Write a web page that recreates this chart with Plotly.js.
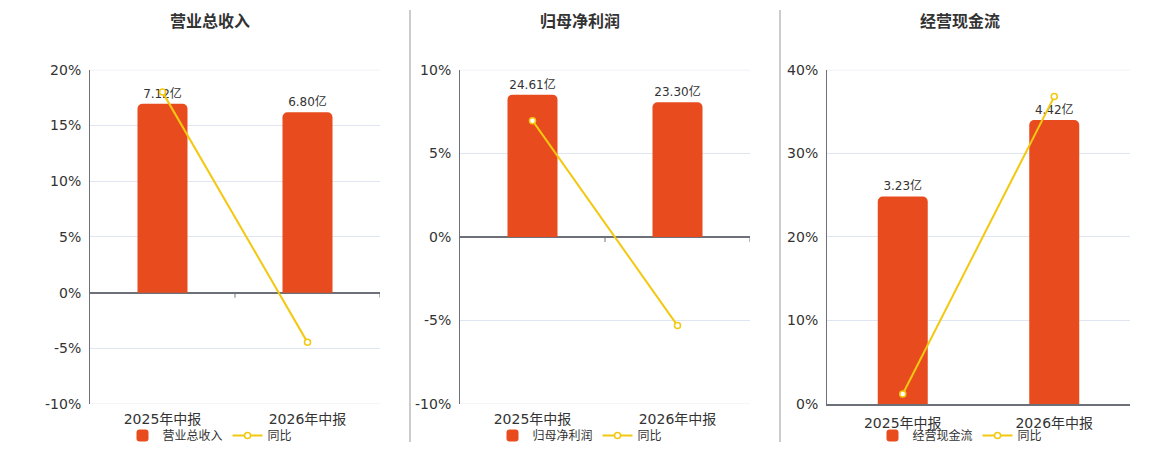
<!DOCTYPE html>
<html>
<head>
<meta charset="utf-8">
<script src="https://cdn.plot.ly/plotly-3.0.1.min.js"></script>
<style>
html,body{margin:0;padding:0;background:#fff;}
#chart{width:1160px;height:450px;}
</style>
</head>
<body>
<div id="chart"></div>
<script>
// ---- data ----
const categories = ['2025年中报', '2026年中报'];

const panelTitles = ['营业总收入', '归母净利润', '经营现金流'];

const revenueValues = [7.12, 6.80];     // 亿
const revenueYoY = [18.0, -4.46];       // %

const profitValues = [24.61, 23.30];    // 亿
const profitYoY = [6.96, -5.3];         // %

const cashValues = [3.23, 4.42];        // 亿
const cashYoY = [1.2, 36.8];            // %

const tickVals1 = [-10, -5, 0, 5, 10, 15, 20];
const tickText1 = ['-10%', '-5%', '0%', '5%', '10%', '15%', '20%'];
const tickVals2 = [-10, -5, 0, 5, 10];
const tickText2 = ['-10%', '-5%', '0%', '5%', '10%'];
const tickVals3 = [0, 10, 20, 30, 40];
const tickText3 = ['0%', '10%', '20%', '30%', '40%'];

const yoyName = '同比';

// ---- style ----
const BAR = '#E84C1E';
const LINE = '#F2C811';
const AXIS = '#6E7079';
const GRID = '#E0E6F1';
const TXT = '#333333';
const FONT = 'DejaVu Sans, Noto Sans CJK SC, sans-serif';

const panels = [
  {vals: revenueValues, yoy: revenueYoY, name: panelTitles[0], tv: tickVals1, tt: tickText1,
   pct: [-10, 20], bar: [-4.2, 8.4], dom: [90/1160, 380/1160], w: 0.345, cx: 210},
  {vals: profitValues, yoy: profitYoY, name: panelTitles[1], tv: tickVals2, tt: tickText2,
   pct: [-10, 10], bar: [-28.9, 28.9], dom: [460/1160, 750/1160], w: 0.345, cx: 580},
  {vals: cashValues, yoy: cashYoY, name: panelTitles[2], tv: tickVals3, tt: tickText3,
   pct: [0, 40], bar: [0, 5.2], dom: [827/1160, 1130/1160], w: 0.33, cx: 960}
];

const traces = [];
const layout = {
  width: 1160, height: 450,
  margin: {l: 0, r: 0, t: 0, b: 0},
  paper_bgcolor: '#fff', plot_bgcolor: 'rgba(0,0,0,0)',
  font: {family: FONT, color: TXT, size: 12},
  showlegend: true,
  annotations: [], shapes: []
};

const ydom = [1 - 405/450, 1 - 70/450];

panels.forEach((p, i) => {
  const n = i + 1;
  const xk = n === 1 ? 'x' : 'x' + n;
  const ybar = 'y' + (2*i + 1 === 1 ? '' : (2*i + 1));
  const ypct = 'y' + (2*i + 2);
  const legendId = n === 1 ? 'legend' : 'legend' + n;

  traces.push({
    type: 'bar', x: categories, y: p.vals, name: p.name,
    xaxis: xk, yaxis: ybar, legend: legendId,
    width: p.w,
    marker: {color: BAR, cornerradius: 5},
    text: p.vals.map(v => v.toFixed(2) + '亿'),
    textposition: 'outside', cliponaxis: false,
    textfont: {size: 12, color: TXT, family: FONT},
    hoverinfo: 'skip'
  });
  traces.push({
    type: 'scatter', mode: 'lines+markers', x: categories, y: p.yoy, name: yoyName,
    xaxis: xk, yaxis: ypct, legend: legendId, cliponaxis: false,
    line: {color: LINE, width: 2},
    marker: {symbol: 'circle', size: 6, color: '#fff', line: {color: LINE, width: 1.5}},
    hoverinfo: 'skip'
  });

  const xName = n === 1 ? 'xaxis' : 'xaxis' + n;
  const ybName = 'yaxis' + (2*i + 1 === 1 ? '' : (2*i + 1));
  const ypName = 'yaxis' + (2*i + 2);

  layout[xName] = {
    domain: p.dom, anchor: ybar, type: 'category',
    range: [-0.5, 1.5], fixedrange: true,
    showgrid: false, zeroline: false,
    showline: i === 2, linecolor: AXIS, linewidth: 2,
    ticks: '', ticklabelstandoff: 5,
    tickfont: {size: 14, color: TXT, family: FONT}
  };
  layout[ybName] = {
    domain: ydom, anchor: xk, range: p.bar,
    showgrid: false, zeroline: false, showline: false,
    showticklabels: false, ticks: '', fixedrange: true
  };
  layout[ypName] = {
    overlaying: ybar, anchor: xk, side: 'left', range: p.pct,
    tickvals: p.tv, ticktext: p.tt,
    showgrid: true, gridcolor: GRID, gridwidth: 1,
    zeroline: i !== 2, zerolinecolor: AXIS, zerolinewidth: 2,
    showline: true, linecolor: AXIS, linewidth: 1,
    ticks: '', ticklabelstandoff: 5,
    tickfont: {size: 14, color: TXT, family: FONT},
    fixedrange: true
  };

  layout[legendId] = {
    orientation: 'h', x: p.cx/1160, xanchor: 'center',
    y: 1 - 436/450, yanchor: 'middle',
    font: {size: 12, color: TXT, family: FONT},
    itemwidth: 30, bgcolor: 'rgba(0,0,0,0)', traceorder: 'normal'
  };

  layout.annotations.push({
    text: '<b>' + p.name + '</b>', xref: 'paper', yref: 'paper',
    x: p.cx/1160, y: 1 - 22/450, xanchor: 'center', yanchor: 'middle',
    showarrow: false, font: {size: 16, color: TXT, family: FONT}
  });

  // gridlines at the range edges (Plotly drops them)
  p.pct.forEach((edge, k) => {
    if (i === 2 && k === 0) return;
    layout.shapes.push({
      type: 'line', xref: xk + ' domain', yref: ypct, x0: 0, x1: 1, y0: edge, y1: edge,
      layer: 'below', line: {color: GRID, width: 1}
    });
  });

  // small category-boundary ticks on the zero line
  const tickPos = i === 2 ? [-0.5, 0.5, 1.5] : [0.5, 1.5];
  tickPos.forEach(tp => {
    layout.shapes.push({
      type: 'line', xref: xk, yref: ypct, x0: tp, x1: tp,
      ysizemode: 'pixel', yanchor: 0, y0: 0, y1: -5,
      line: {color: AXIS, width: 1}
    });
  });
});

// panel dividers
[410, 780].forEach(px => {
  layout.shapes.push({
    type: 'line', xref: 'paper', yref: 'paper',
    x0: px/1160, x1: px/1160, y0: 1 - 10/450, y1: 1 - 443/450,
    line: {color: '#BBBBBB', width: 1.5}
  });
});

Plotly.newPlot('chart', traces, layout, {displayModeBar: false, staticPlot: true});
</script>
</body>
</html>
